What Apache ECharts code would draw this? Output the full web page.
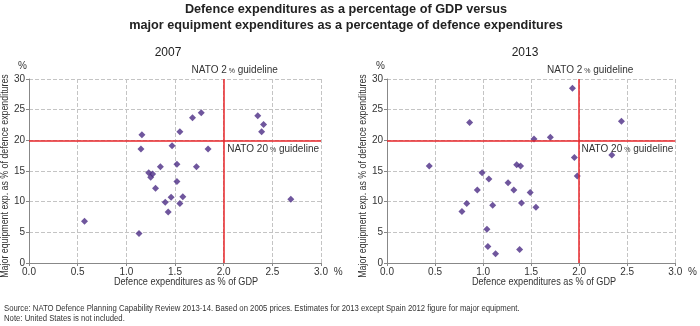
<!DOCTYPE html>
<html><head><meta charset="utf-8">
<script src="https://cdn.jsdelivr.net/npm/echarts@6/dist/echarts.min.js"></script>
<style>html,body{margin:0;padding:0;background:#fff}#c{width:700px;height:326px}</style>
</head><body><div id="c"></div>
<script>
const mainTitle = "Defence expenditures as a percentage of GDP versus\nmajor equipment expenditures as a percentage of defence expenditures";
const panelTitles = ["2007", "2013"];
const xTitle = "Defence expenditures as % of GDP";
const yTitle = "Major equipment exp. as % of defence expenditures";
const sourceText = "Source: NATO Defence Planning Capability Review 2013-14. Based on 2005 prices. Estimates for 2013 except Spain 2012 figure for major equipment.\nNote: United States is not included.";
const gdpGuideline = 2;
const equipGuideline = 20;

const gdp2007 = [0.57,1.13,1.16,1.15,1.23,1.25,1.27,1.35,1.30,1.40,1.43,1.46,1.47,1.55,1.52,1.52,1.55,1.58,1.68,1.77,1.72,1.84,2.35,2.41,2.39,2.69];
const eq2007  = [6.8,4.8,20.9,18.6,14.7,14.0,14.5,15.7,12.2,9.9,8.3,10.7,19.1,21.4,16.1,13.3,9.7,10.8,23.7,24.5,15.7,18.6,24.0,22.6,21.4,10.4];
const gdp2013 = [0.44,0.86,0.78,0.83,0.94,0.99,1.06,1.10,1.04,1.05,1.13,1.26,1.32,1.35,1.39,1.40,1.38,1.49,1.55,1.53,1.70,1.93,1.95,1.98,2.34,2.44];
const eq2013  = [15.8,22.9,8.4,9.7,11.9,14.7,13.7,9.4,5.5,2.7,1.5,13.1,11.9,16.0,15.8,9.8,2.2,11.5,9.1,20.2,20.5,28.5,17.2,14.2,17.6,23.1];

const FONT = "Liberation Sans, Arial, sans-serif";
const chart = echarts.init(document.getElementById('c'));
const lefts = [29, 387];
const grids = lefts.map(l => ({left: l, top: 79, width: 292, height: 184}));

function xAx(i){return {gridIndex:i,type:'value',min:0,max:3,interval:0.5,
  name:'%',nameLocation:'end',nameGap:8,nameTextStyle:{fontSize:10,color:'#333',fontFamily:FONT,verticalAlign:'top',padding:[4,0,0,0]},
  axisLine:{show:true,lineStyle:{color:'#888',width:1}},axisTick:{show:true,length:3,lineStyle:{color:'#888'}},
  axisLabel:{fontSize:10,color:'#333',fontFamily:FONT,margin:4,formatter:v=>v.toFixed(1)},
  splitLine:{show:true,lineStyle:{color:'#c4c4c4',type:[4,2],width:1}}};}
function yAx(i){return {gridIndex:i,type:'value',min:0,max:30,interval:5,
  name:'%',nameLocation:'end',nameGap:8,nameTextStyle:{fontSize:10,color:'#333',fontFamily:FONT,align:'right',padding:[0,2,0,0]},
  axisLine:{show:true,lineStyle:{color:'#888',width:1}},axisTick:{show:true,length:3,lineStyle:{color:'#888'}},
  axisLabel:{fontSize:10,color:'#333',fontFamily:FONT,margin:4},
  splitLine:{show:true,lineStyle:{color:'#c4c4c4',type:[4,2],width:1}}};}

const richP = {p:{fontSize:7,fontFamily:FONT,color:'#333',padding:[2,0,0,2]}, t:{fontSize:10,fontFamily:FONT,color:'#333'}};
function series(i, xs, ys){
  return {type:'scatter',xAxisIndex:i,yAxisIndex:i,symbol:'diamond',symbolSize:7,
    itemStyle:{color:'#4b2c85'},data:xs.map((x,k)=>[x,ys[k]]),
    markLine:{silent:true,symbol:['none','none'],animation:false,
      lineStyle:{color:'#e8262a',width:1.5,type:'solid'},
      data:[
        {xAxis:gdpGuideline,label:{show:true,position:'end',distance:4,offset:[11,0],formatter:'{t|NATO 2}{p|%}{t| guideline}',rich:richP}},
        {yAxis:equipGuideline,label:{show:true,position:'insideEndBottom',distance:[2,4],formatter:'{t|NATO 20}{p|%}{t| guideline}',rich:richP}}
      ]}};
}

chart.setOption({
  animation:false,
  title:[
    {text:mainTitle,left:341,top:-4,textAlign:'center',textStyle:{fontSize:12.7,fontWeight:'bold',fontFamily:FONT,color:'#222',lineHeight:16}},
    {text:panelTitles[0],left:163,top:42,textAlign:'center',textStyle:{fontSize:12,fontWeight:'normal',fontFamily:FONT,color:'#222'}},
    {text:panelTitles[1],left:520,top:42,textAlign:'center',textStyle:{fontSize:12,fontWeight:'normal',fontFamily:FONT,color:'#222'}}
  ],
  grid:grids,
  xAxis:[xAx(0),xAx(1)],
  yAxis:[yAx(0),yAx(1)],
  series:[series(0,gdp2007,eq2007),series(1,gdp2013,eq2013)],
  graphic:[
    {type:'text',x:4,y:304,scaleX:0.91,style:{text:sourceText,fontSize:8.5,lineHeight:10,fontFamily:FONT,fill:'#333'}},
    ...lefts.map(l=>({type:'text',x:l+157,y:277,scaleX:0.87,style:{text:xTitle,fontSize:10.5,fontFamily:FONT,fill:'#333',align:'center'}})),
    ...lefts.map(l=>({type:'text',x:l-29,y:176,rotation:Math.PI/2,scaleX:0.84,style:{text:yTitle,fontSize:10.5,fontFamily:FONT,fill:'#333',align:'center',verticalAlign:'top'}}))
  ]
});
</script></body></html>
